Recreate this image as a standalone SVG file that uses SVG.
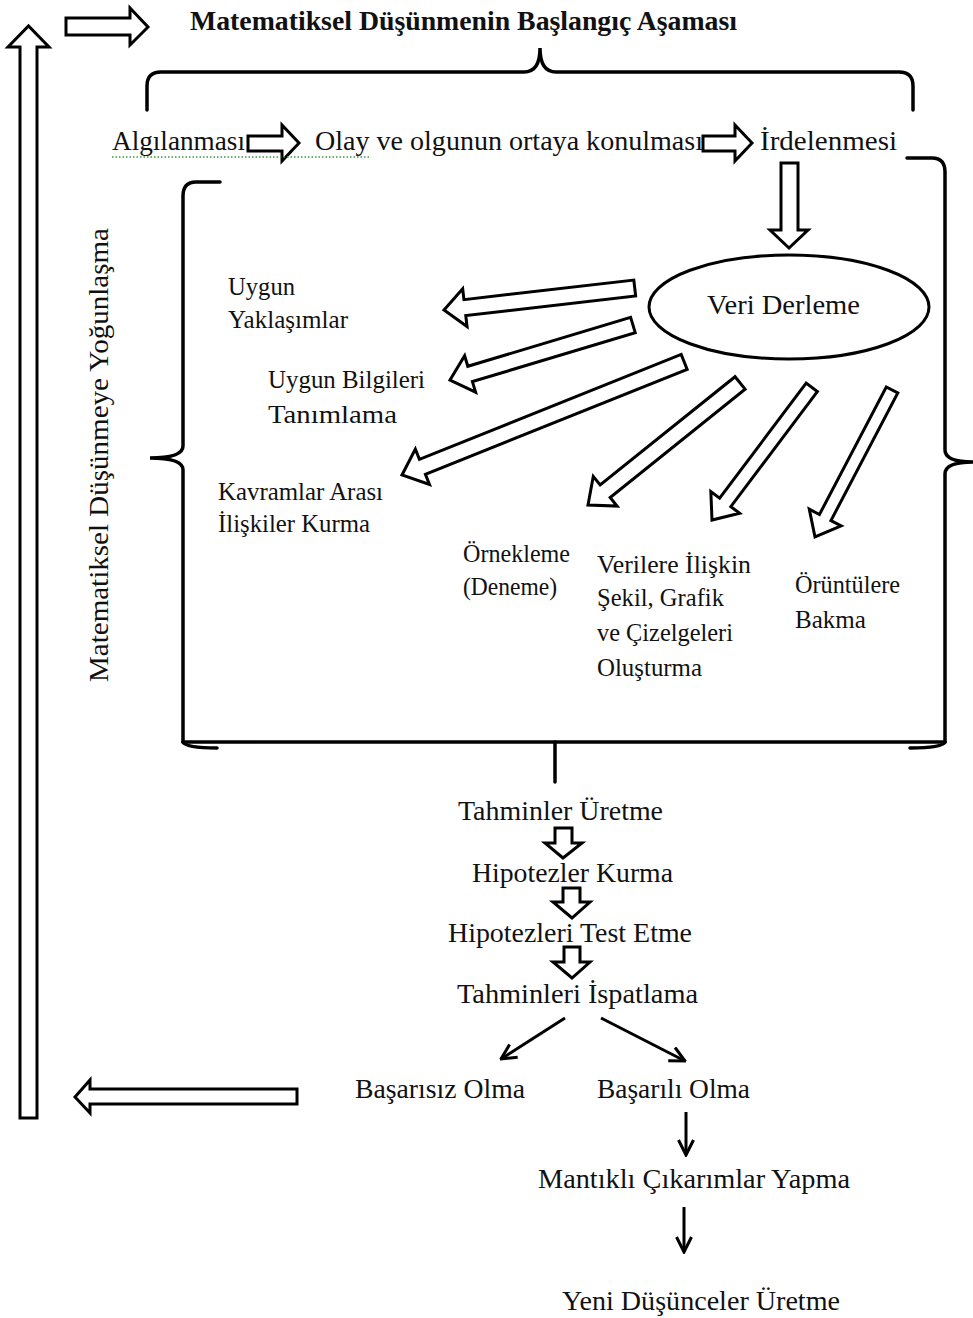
<svg xmlns="http://www.w3.org/2000/svg" width="973" height="1318" viewBox="0 0 973 1318">
<style>
.t{font-family:"Liberation Serif","Times New Roman",serif;fill:#111;font-size:26px}
.b{font-size:28px}
.bold{font-weight:bold;font-size:28px}
.blk{fill:#fff;stroke:#000;stroke-width:3;stroke-linejoin:miter}
.br{fill:none;stroke:#000;stroke-width:3.5;stroke-linecap:round}
.ln{fill:none;stroke:#000;stroke-width:3;marker-end:url(#ah)}
</style>
<defs>
<marker id="ah" viewBox="0 0 12 12" refX="11" refY="6" markerWidth="18" markerHeight="18" markerUnits="userSpaceOnUse" orient="auto">
<path d="M1,1 L11,6 L1,11" fill="none" stroke="#000" stroke-width="2"/>
</marker>
</defs>
<rect width="973" height="1318" fill="#fff"/>

<g id="connectors">
  <path class="blk" d="M20,1118 L20,47 L8,47 L28.5,26 L49,47 L37,47 L37,1118 Z"/>
  <path class="blk" d="M66,18 L130,18 L130,8 L148,27 L130,45 L130,35 L66,35 Z"/>
  <path class="br" d="M147,110 L147,86 Q147,72 161,72 L524,72 Q540,72 540,48 Q540,72 556,72 L899,72 Q913,72 913,86 L913,110"/>
  <path class="blk" d="M248,136 L282,136 L282,125 L299,143 L282,161 L282,151 L248,151 Z"/>
  <path class="blk" d="M703,136 L735,136 L735,125 L752,143 L735,161 L735,151 L703,151 Z"/>
  <path d="M112,157 L370,157" stroke="#3a9a3a" stroke-width="1.5" stroke-dasharray="1.5,2" fill="none"/>
  <path class="blk" d="M781,163 L798,163 L798,230 L808,230 L789,248 L770,230 L781,230 Z"/>
  <path class="br" d="M220,182 L196,182 Q183,182 183,196 L183,446 Q183,458 150,458 Q183,458 183,470 L183,742"/>
  <path class="br" d="M907,158 L932,158 Q945,158 945,172 L945,450 Q945,462 973,462 Q945,462 945,474 L945,742"/>
  <path class="br" d="M183,742 L945,742"/>
  <path class="br" d="M183,742 Q186,748 217,748"/>
  <path class="br" d="M945,742 Q942,748 910,748"/>
  <path class="br" d="M555,742 L555,782"/>
  <path class="blk" transform="translate(444,310) rotate(-6.57)" d="M0,0 L21,-19 L21,-8 L192,-8 L192,8 L21,8 L21,19 Z"/>
  <path class="blk" transform="translate(450,380) rotate(-16.73)" d="M0,0 L21,-19 L21,-8 L191,-8 L191,8 L21,8 L21,19 Z"/>
  <path class="blk" transform="translate(402,475) rotate(-21.84)" d="M0,0 L22,-19 L22,-8 L304,-8 L304,8 L22,8 L22,19 Z"/>
  <path class="blk" transform="translate(588,505) rotate(-38.75)" d="M0,0 L22,-19 L22,-8 L195,-8 L195,8 L22,8 L22,19 Z"/>
  <path class="blk" transform="translate(712,520) rotate(-53.06)" d="M0,0 L22,-18 L22,-7 L166,-7 L166,7 L22,7 L22,18 Z"/>
  <path class="blk" transform="translate(815,537) rotate(-62.35)" d="M0,0 L22,-18 L22,-6.5 L166,-6.5 L166,6.5 L22,6.5 L22,18 Z"/>
  <path class="blk" d="M555,828 L572,828 L572,843 L582,843 L563,858 L545,843 L555,843 Z"/>
  <path class="blk" d="M563,888 L580,888 L580,902 L590,902 L572,918 L553,902 L563,902 Z"/>
  <path class="blk" d="M564,947 L580,947 L580,962 L590,962 L572,978 L553,962 L564,962 Z"/>
  <path class="ln" d="M565,1018 L501,1059"/>
  <path class="ln" d="M601,1018 L685,1061"/>
  <path class="ln" d="M686,1112 L686,1155"/>
  <path class="ln" d="M684,1207 L684,1252"/>
  <path class="blk" d="M297,1089 L90,1089 L90,1080 L75,1097 L90,1113 L90,1104 L297,1104 Z"/>
</g>

<g id="title"><text class="t bold" x="190" y="30" textLength="547" lengthAdjust="spacingAndGlyphs">Matematiksel Düşünmenin Başlangıç Aşaması</text></g>
<g id="n-algilanmasi"><text class="t b" x="112" y="150" textLength="133" lengthAdjust="spacingAndGlyphs">Algılanması</text></g>
<g id="n-olay"><text class="t b" x="315" y="150" textLength="388" lengthAdjust="spacingAndGlyphs">Olay ve olgunun ortaya konulması</text></g>
<g id="n-irdelenmesi"><text class="t b" x="760" y="150" textLength="137" lengthAdjust="spacingAndGlyphs">İrdelenmesi</text></g>
<g id="n-vertical"><text class="t b" transform="translate(108,682) rotate(-90)" x="0" y="0" textLength="454" lengthAdjust="spacingAndGlyphs">Matematiksel Düşünmeye Yoğunlaşma</text></g>

<g id="n-veri">
  <ellipse cx="789" cy="307" rx="140" ry="52" fill="#fff" stroke="#000" stroke-width="3"/>
  <text class="t b" x="707" y="314" textLength="153" lengthAdjust="spacingAndGlyphs">Veri Derleme</text>
</g>
<g id="n-yaklasimlar">
  <text class="t" x="228" y="295" textLength="67" lengthAdjust="spacingAndGlyphs">Uygun</text>
  <text class="t" x="228" y="328" textLength="120" lengthAdjust="spacingAndGlyphs">Yaklaşımlar</text>
</g>
<g id="n-bilgileri">
  <text class="t" x="268" y="388" textLength="157" lengthAdjust="spacingAndGlyphs">Uygun Bilgileri</text>
  <text class="t" x="268" y="423" textLength="129" lengthAdjust="spacingAndGlyphs">Tanımlama</text>
</g>
<g id="n-kavramlar">
  <text class="t" x="218" y="500" textLength="165" lengthAdjust="spacingAndGlyphs">Kavramlar  Arası</text>
  <text class="t" x="218" y="532" textLength="152" lengthAdjust="spacingAndGlyphs">İlişkiler Kurma</text>
</g>
<g id="n-ornekleme">
  <text class="t" x="463" y="562" textLength="107" lengthAdjust="spacingAndGlyphs">Örnekleme</text>
  <text class="t" x="463" y="595" textLength="94" lengthAdjust="spacingAndGlyphs">(Deneme)</text>
</g>
<g id="n-verilere">
  <text class="t" x="597" y="573" textLength="154" lengthAdjust="spacingAndGlyphs">Verilere  İlişkin</text>
  <text class="t" x="597" y="606" textLength="127" lengthAdjust="spacingAndGlyphs">Şekil, Grafik</text>
  <text class="t" x="597" y="641" textLength="136" lengthAdjust="spacingAndGlyphs">ve Çizelgeleri</text>
  <text class="t" x="597" y="676" textLength="105" lengthAdjust="spacingAndGlyphs">Oluşturma</text>
</g>
<g id="n-oruntulere">
  <text class="t" x="795" y="593" textLength="105" lengthAdjust="spacingAndGlyphs">Örüntülere</text>
  <text class="t" x="795" y="628" textLength="71" lengthAdjust="spacingAndGlyphs">Bakma</text>
</g>
<g id="n-tahminler"><text class="t b" x="458" y="820" textLength="205" lengthAdjust="spacingAndGlyphs">Tahminler Üretme</text></g>
<g id="n-hipotezler"><text class="t b" x="472" y="882" textLength="201" lengthAdjust="spacingAndGlyphs">Hipotezler Kurma</text></g>
<g id="n-test"><text class="t b" x="448" y="942" textLength="244" lengthAdjust="spacingAndGlyphs">Hipotezleri Test Etme</text></g>
<g id="n-ispat"><text class="t b" x="457" y="1003" textLength="241" lengthAdjust="spacingAndGlyphs">Tahminleri İspatlama</text></g>
<g id="n-basarisiz"><text class="t b" x="355" y="1098" textLength="170" lengthAdjust="spacingAndGlyphs">Başarısız Olma</text></g>
<g id="n-basarili"><text class="t b" x="597" y="1098" textLength="153" lengthAdjust="spacingAndGlyphs">Başarılı Olma</text></g>
<g id="n-mantikli"><text class="t b" x="538" y="1188" textLength="312" lengthAdjust="spacingAndGlyphs">Mantıklı Çıkarımlar Yapma</text></g>
<g id="n-yeni"><text class="t b" x="562" y="1310" textLength="278" lengthAdjust="spacingAndGlyphs">Yeni Düşünceler Üretme</text></g>
</svg>
